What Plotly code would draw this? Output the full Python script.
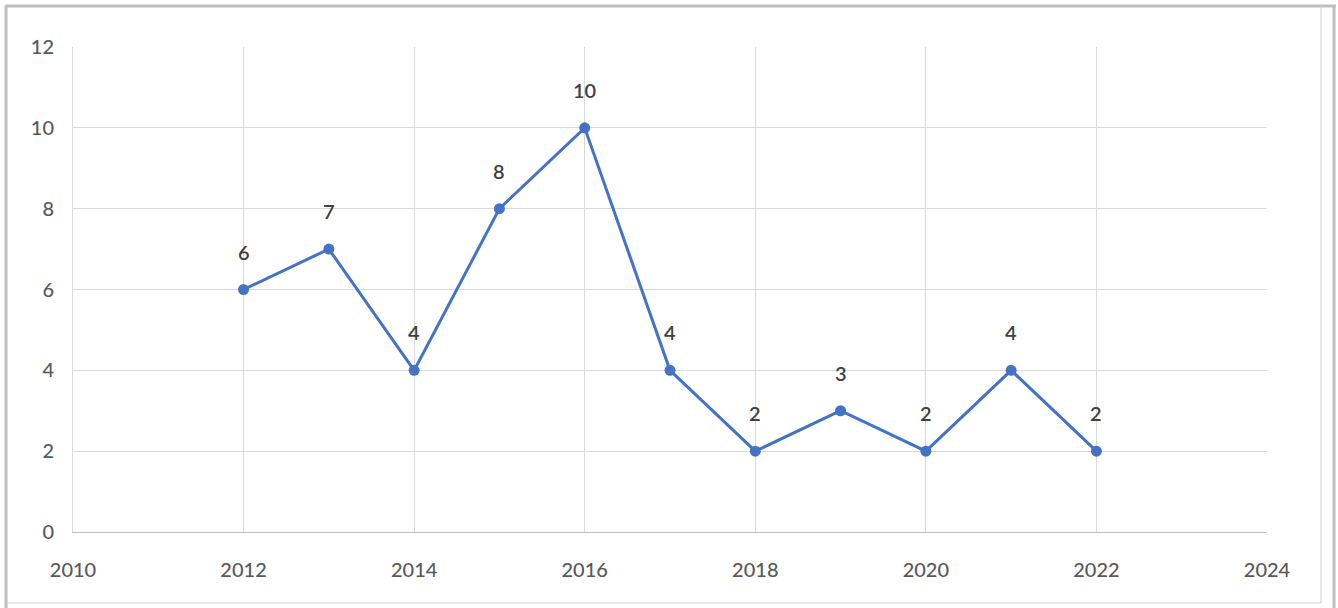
import plotly.graph_objects as go

years = [2012, 2013, 2014, 2015, 2016, 2017, 2018, 2019, 2020, 2021, 2022]
counts = [6, 7, 4, 8, 10, 4, 2, 3, 2, 4, 2]
x_ticks = [2010, 2012, 2014, 2016, 2018, 2020, 2022, 2024]
y_ticks = [0, 2, 4, 6, 8, 10, 12]

W, H = 1338, 608
L, R, T, B = 73, 71, 47, 76
PW, PH = W - L - R, H - T - B

def px(x):
    return (x - L) / PW

def py(y):
    return (H - B - y) / PH

FONT = "Lato"
BLUE = "#4472C4"

fig = go.Figure()
fig.add_trace(go.Scatter(
    x=years, y=counts, mode="lines+markers",
    line=dict(color=BLUE, width=3),
    marker=dict(color=BLUE, size=11),
    hoverinfo="x+y", showlegend=False,
))

for xv, yv in zip(years, counts):
    fig.add_annotation(x=xv, y=yv, text=str(yv), showarrow=False,
                       yshift=38, xanchor="center", yanchor="middle",
                       font=dict(family=FONT, size=20, color="#404040", weight=600))

border = "#bfbfbf"
shapes = [
    dict(type="line", xref="paper", yref="paper", x0=px(5), x1=px(1336), y0=py(6), y1=py(6),
         line=dict(color=border, width=3)),
    dict(type="line", xref="paper", yref="paper", x0=px(6), x1=px(6), y0=py(6), y1=py(610),
         line=dict(color=border, width=3)),
    dict(type="line", xref="paper", yref="paper", x0=px(1334), x1=px(1334), y0=py(6), y1=py(610),
         line=dict(color=border, width=3)),
    dict(type="line", xref="paper", yref="paper", x0=px(1321), x1=px(1321), y0=py(6), y1=py(603),
         line=dict(color="#d0d0d0", width=1)),
    dict(type="line", xref="paper", yref="paper", x0=px(7), x1=px(1321), y0=py(603), y1=py(603),
         line=dict(color="#d0d0d0", width=1)),
]

tick_font = dict(family=FONT, size=20, color="#595959", weight=500)

fig.update_layout(
    width=W, height=H,
    margin=dict(l=L, r=R, t=T, b=B),
    paper_bgcolor="white", plot_bgcolor="white",
    shapes=shapes,
    xaxis=dict(range=[2010, 2024], tickvals=x_ticks, ticktext=[str(v) for v in x_ticks],
               showgrid=True, gridcolor="#d9d9d9", gridwidth=1,
               showline=True, linecolor="#bfbfbf", linewidth=1, mirror=False,
               zeroline=False, ticks="", ticklabelstandoff=20,
               tickfont=tick_font),
    yaxis=dict(range=[0, 12], tickvals=y_ticks,
               showgrid=True, gridcolor="#d9d9d9", gridwidth=1,
               showline=True, linecolor="#d9d9d9", linewidth=1,
               zeroline=False, ticks="", ticklabelstandoff=14,
               tickfont=tick_font),
)

fig.write_html("out.html", config={"displayModeBar": False},
               post_script="document.body.style.margin='0';document.body.style.padding='0';")
